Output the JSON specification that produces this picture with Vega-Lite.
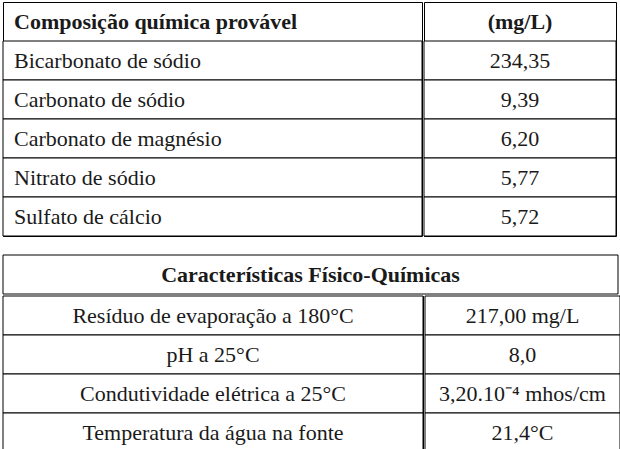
{
  "$schema": "https://vega.github.io/schema/vega-lite/v6.json",
  "padding": {"left": 2, "top": 1, "right": 0, "bottom": 0},
  "background": "white",
  "spacing": 17,
  "config": {
    "view": {"stroke": "#000", "strokeWidth": 1},
    "concat": {"spacing": 0},
    "text": {"font": "Liberation Serif", "fontSize": 22, "color": "#1a1a1a", "baseline": "middle"},
    "rect": {"fill": "white", "stroke": "#000", "strokeWidth": 1},
    "scale": {"bandPaddingInner": 0, "bandPaddingOuter": 0}
  },
  "datasets": {
    "composicao": [
      {"item": "Bicarbonato de sódio", "mgL": "234,35"},
      {"item": "Carbonato de sódio", "mgL": "9,39"},
      {"item": "Carbonato de magnésio", "mgL": "6,20"},
      {"item": "Nitrato de sódio", "mgL": "5,77"},
      {"item": "Sulfato de cálcio", "mgL": "5,72"}
    ],
    "fisico": [
      {"parametro": "Resíduo de evaporação a 180°C", "valor": "217,00 mg/L"},
      {"parametro": "pH a 25°C", "valor": "8,0"},
      {"parametro": "Condutividade elétrica a 25°C", "valor": "3,20.10⁻⁴ mhos/cm"},
      {"parametro": "Temperatura da água na fonte", "valor": "21,4°C"}
    ]
  },
  "vconcat": [
    {
      "spacing": 0,
      "hconcat": [
        {
          "width": 419,
          "height": 234,
          "data": {"name": "composicao"},
          "encoding": {
            "y": {
              "field": "item",
              "type": "nominal",
              "axis": null,
              "scale": {"domain": ["Composição química provável", "Bicarbonato de sódio", "Carbonato de sódio", "Carbonato de magnésio", "Nitrato de sódio", "Sulfato de cálcio"]}
            }
          },
          "layer": [
            {"mark": {"type": "rect"}},
            {
              "mark": {"type": "text", "align": "left", "dx": 11},
              "encoding": {"x": {"value": 0}, "text": {"field": "item"}}
            },
            {
              "data": {"values": [{}]},
              "mark": {"type": "text", "align": "left", "dx": 11, "fontWeight": "bold"},
              "encoding": {
                "x": {"value": 0},
                "y": {"datum": "Composição química provável"},
                "text": {"value": "Composição química provável"}
              }
            }
          ]
        },
        {
          "width": 192,
          "height": 234,
          "data": {"name": "composicao"},
          "encoding": {
            "y": {
              "field": "item",
              "type": "nominal",
              "axis": null,
              "scale": {"domain": ["Composição química provável", "Bicarbonato de sódio", "Carbonato de sódio", "Carbonato de magnésio", "Nitrato de sódio", "Sulfato de cálcio"]}
            }
          },
          "layer": [
            {"mark": {"type": "rect"}},
            {
              "mark": {"type": "text", "align": "center"},
              "encoding": {"text": {"field": "mgL"}}
            },
            {
              "data": {"values": [{}]},
              "mark": {"type": "text", "align": "center", "fontWeight": "bold"},
              "encoding": {
                "y": {"datum": "Composição química provável"},
                "text": {"value": "(mg/L)"}
              }
            }
          ]
        }
      ]
    },
    {
      "spacing": 0,
      "vconcat": [
        {
          "width": 615,
          "height": 39,
          "data": {"values": [{}]},
          "layer": [
            {"mark": {"type": "rect"}, "encoding": {}},
            {
              "mark": {"type": "text", "align": "center", "fontWeight": "bold"},
              "encoding": {"text": {"value": "Características Físico-Químicas"}}
            }
          ]
        },
        {
          "spacing": 0,
          "hconcat": [
            {
              "width": 420,
              "height": 156,
              "data": {"name": "fisico"},
              "encoding": {"y": {"field": "parametro", "type": "nominal", "sort": null, "axis": null}},
              "layer": [
                {"mark": {"type": "rect"}},
                {"mark": {"type": "text", "align": "center"}, "encoding": {"text": {"field": "parametro"}}}
              ]
            },
            {
              "width": 195,
              "height": 156,
              "data": {"name": "fisico"},
              "encoding": {"y": {"field": "parametro", "type": "nominal", "sort": null, "axis": null}},
              "layer": [
                {"mark": {"type": "rect"}},
                {"mark": {"type": "text", "align": "center"}, "encoding": {"text": {"field": "valor"}}}
              ]
            }
          ]
        }
      ]
    }
  ]
}
